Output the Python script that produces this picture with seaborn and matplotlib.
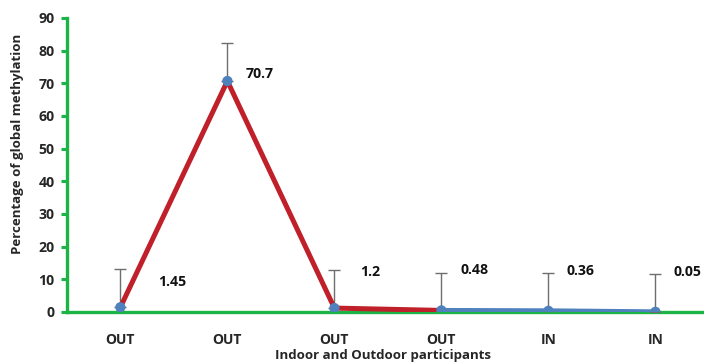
import matplotlib
matplotlib.use("Agg")
import matplotlib.pyplot as plt
from matplotlib.ticker import FixedLocator
import numpy as np
import pandas as pd
import seaborn as sns

# Participant groups and measured global methylation (%)
categories = ["OUT", "OUT", "OUT", "OUT", "IN", "IN"]
methylation = [1.45, 70.7, 1.2, 0.48, 0.36, 0.05]
error_up = [11.6, 11.6, 11.6, 11.6, 11.6, 11.6]
value_labels = ["1.45", "70.7", "1.2", "0.48", "0.36", "0.05"]
y_ticks = [0, 10, 20, 30, 40, 50, 60, 70, 80, 90]

sns.set_theme(style="white")
plt.rcParams["font.family"] = ["Open Sans", "DejaVu Sans"]

df = pd.DataFrame({"pos": np.arange(len(categories)), "value": methylation})
outdoor = df.iloc[:4]
indoor = df.iloc[3:]

fig = plt.figure(figsize=(7.04, 3.63), dpi=100)
ax = fig.add_axes([0.095, 0.1405, 0.912, 0.81])

GREEN = "#1DB446"
RED = "#C0202A"
BLUE = "#4F81BD"

# Upward-only error bars
ax.errorbar(df["pos"], df["value"], yerr=[np.zeros(len(df)), error_up],
            fmt="none", ecolor="#6E6E6E", elinewidth=1.0, capsize=4,
            capthick=1.0, zorder=2)

sns.lineplot(data=outdoor, x="pos", y="value", color=RED, linewidth=3.6,
             ax=ax, zorder=3, solid_capstyle="butt")
sns.lineplot(data=indoor, x="pos", y="value", color=BLUE, linewidth=3.6,
             ax=ax, zorder=4, solid_capstyle="butt")
sns.scatterplot(data=df, x="pos", y="value", color=BLUE, s=55,
                edgecolor="none", ax=ax, zorder=5)

# Value labels beside each point (offsets in points)
offsets = [(37, 18), (23, 5), (26, 26), (24, 29), (23, 29), (23, 29)]
for (_, row), lab, off in zip(df.iterrows(), value_labels, offsets):
    ax.annotate(lab, (row["pos"], row["value"]), xytext=off,
                textcoords="offset points", ha="center", va="center",
                fontsize=10.2, fontweight="bold", color="#111111")

ax.set_xlim(-0.5, 5.5)
ax.set_ylim(0, 90)
ax.set_yticks(y_ticks)
ax.set_yticklabels([str(t) for t in y_ticks], fontsize=10.2, fontweight="bold")
ax.set_xticks(df["pos"])
ax.set_xticklabels(categories, fontsize=10, fontweight="bold")
ax.xaxis.set_minor_locator(FixedLocator(np.arange(0.5, 5.5, 1.0)))

ax.tick_params(axis="x", which="major", length=0, pad=15)
ax.tick_params(axis="x", which="minor", direction="in", length=3,
               width=2.2, color=GREEN)
ax.tick_params(axis="y", which="major", direction="out", length=4,
               width=2.2, color=GREEN, pad=5, left=True)

for side in ["top", "right"]:
    ax.spines[side].set_visible(False)
for side in ["left", "bottom"]:
    ax.spines[side].set_color(GREEN)
    ax.spines[side].set_linewidth(2.4)
    ax.spines[side].set_zorder(1)

ax.set_ylabel("Percentage of global methylation", fontsize=9.5,
              fontweight="bold")
ax.yaxis.label.set_va("center")
ax.yaxis.set_label_coords(-0.0765, 0.571)
ax.set_xlabel("Indoor and Outdoor participants", fontsize=9.5,
              fontweight="bold")
ax.xaxis.label.set_va("center")
ax.xaxis.set_label_coords(0.492, -0.147)

fig.savefig("out.png", dpi=100)
